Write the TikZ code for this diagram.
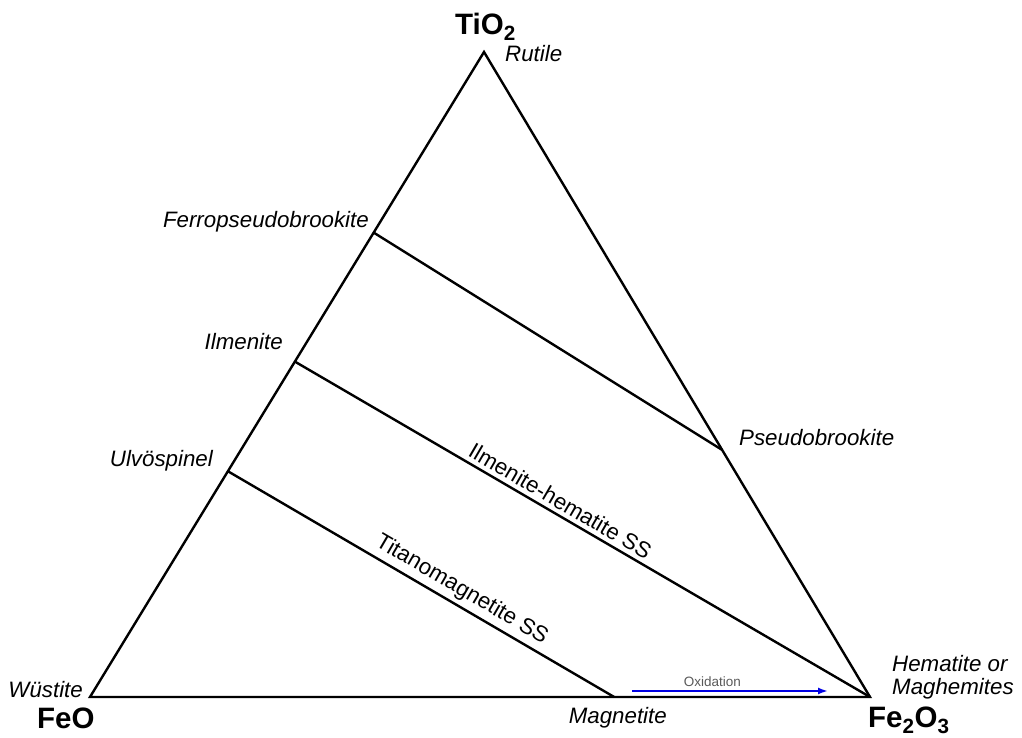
\documentclass[tikz,border=0pt]{standalone}
\usepackage{fontspec}
\setmainfont{Liberation Sans}
\usetikzlibrary{calc,arrows.meta}
\definecolor{oxblue}{rgb}{0.0, 0.0, 0.9}

\begin{document}
\begin{tikzpicture}[x=1pt,y=1pt,
    edge/.style={line width=2.4pt,line join=miter},
    mineral/.style={font=\fontsize{22.3}{26}\selectfont\itshape,inner sep=0pt},
    series/.style={font=\fontsize{22.3}{26}\selectfont,inner sep=0pt,sloped,above=4pt},
    oxide/.style={font=\fontsize{29.5}{32}\selectfont\bfseries,inner sep=0pt},
    oxarrow/.style={line width=2pt,oxblue,-{Latex[length=10pt,width=7pt]}}]
   	 \useasboundingbox (0,0) rectangle (1022,738);
   	 % corners
   	 \coordinate (feo) at (90,41);
   	 \coordinate (fe2o3) at (870,41);
   	 \coordinate (tio2) at (484,686);
   	 % points on the edges
   	 \coordinate (fpb) at ($(feo)!0.72!(tio2)$);
   	 \coordinate (ilm) at ($(feo)!0.52!(tio2)$);
   	 \coordinate (usp) at ($(feo)!0.35!(tio2)$);
   	 \coordinate (psb) at ($(fe2o3)!0.383!(tio2)$);
   	 \coordinate (mag) at ($(feo)!0.672!(fe2o3)$);
   	 \draw[edge] (feo) -- (fe2o3) -- (tio2) -- cycle;
   	 \draw[edge] (fpb) -- (psb);
   	 \draw[edge] (ilm) -- (fe2o3) node[series,pos=0.45]{Ilmenite-hematite SS};
   	 \draw[edge] (usp) -- (mag) node[series,pos=0.585]{Titanomagnetite SS};
   	 % oxidation
   	 \coordinate (oxs) at (632,47);
   	 \coordinate (oxe) at (828,47);
   	 \draw[oxarrow] (oxs) -- (oxe) node[pos=0.41,above=3pt,inner sep=0pt,text=black!65,font=\fontsize{13.5}{15}\selectfont]{Oxidation};
   	 % end members
   	 \node[oxide,anchor=base west] (tio2lbl) at (455,703) {TiO\textsubscript{2}};
   	 \node[oxide,anchor=base west] (feolbl) at (37,9) {FeO};
   	 \node[oxide,anchor=base west] (fe2o3lbl) at (868,10) {Fe\textsubscript{2}O\textsubscript{3}};
   	 \node[mineral,anchor=base west] (rut) at (505,676) {Rutile};
   	 \node[mineral,anchor=base east] (wus) at (83,40) {Wüstite};
   	 \node[mineral,anchor=base east] (magl) at (667,14) {Magnetite};
   	 \node[mineral,anchor=base west] (hem) at (892,66) {Hematite or};
   	 \node[mineral,anchor=base west] (mgh) at (892,43) {Maghemites};
   	 \node[mineral,anchor=base east] (fpbl) at (369,510) {Ferropseudobrookite};
   	 \node[mineral,anchor=base east] (ilml) at (283,388) {Ilmenite};
   	 \node[mineral,anchor=base east] (uspl) at (213,271) {Ulvöspinel};
   	 \node[mineral,anchor=base west] (psbl) at (739,292) {Pseudobrookite};
    \end{tikzpicture}
\end{document}
